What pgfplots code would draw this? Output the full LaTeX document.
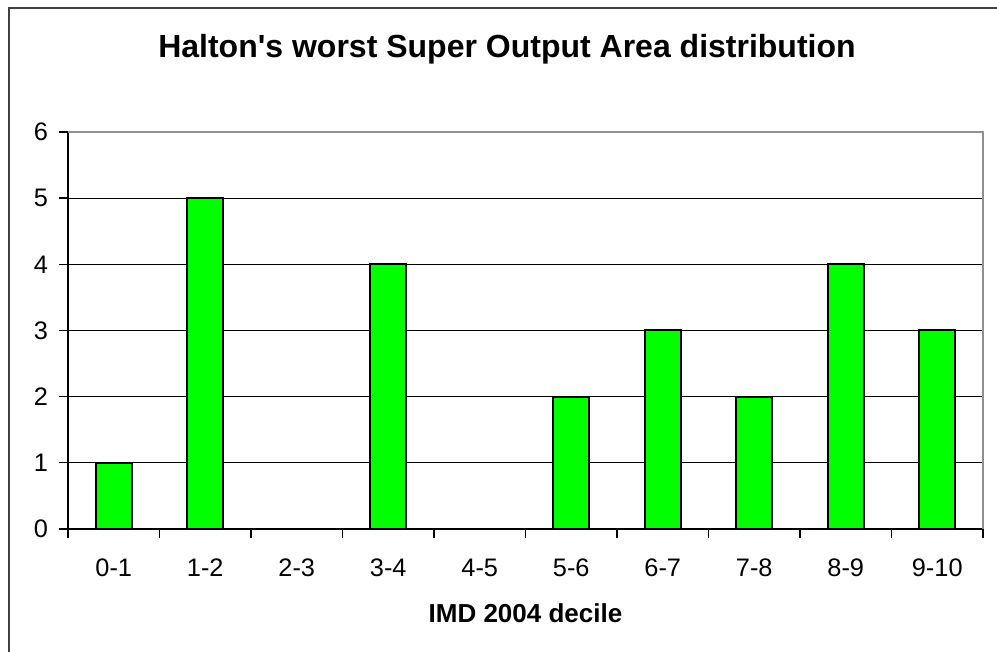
\documentclass[border=0pt]{standalone}
\usepackage{fontspec}
\setmainfont{Liberation Sans}
\usepackage{pgfplots}
\pgfplotsset{compat=1.18}
\definecolor{bargreen}{HTML}{00FF00}
\definecolor{framegray}{HTML}{404040}
\definecolor{boxgray}{HTML}{909090}

\begin{document}
\begin{tikzpicture}
% picture is 997 x 652 px, 1px = 0.75pt
\useasboundingbox (0pt,0pt) rectangle (747.75pt,489pt);
\begin{scope}
  \clip (0pt,0pt) rectangle (747.75pt,489pt);
  \draw[framegray, line width=1.5pt] (7pt,-20pt) -- (7pt,483pt) -- (770pt,483pt);
\end{scope}

\begin{axis}[
  at={(51pt,92.25pt)}, anchor=south west,
  scale only axis, width=686.25pt, height=297.75pt,
  xmin=0, xmax=10, ymin=0, ymax=6,
  ybar, bar width=27pt,
  axis lines=left, axis line style={-, line width=1.2pt},
  xtick={0,1,...,10}, x tick label as interval,
  xticklabels={0-1,1-2,2-3,3-4,4-5,5-6,6-7,7-8,8-9,9-10},
  ytick={0,1,...,6},
  tick align=outside, major tick length=6.5pt,
  tick style={black, line width=1pt},
  ymajorgrids, major grid style={black, line width=0.8pt},
  /pgf/number format/assume math mode=true,
  tick label style={font=\fontsize{19}{23}\selectfont},
  xticklabel style={anchor=north, text height=13.6pt, text depth=0pt, yshift=-12pt},
  yticklabel style={xshift=-5pt},
  title={Halton\textquotesingle s worst Super Output Area distribution},
  title style={font=\bfseries\fontsize{24}{29}\selectfont,
    at={(axis description cs:0.5,1)}, anchor=base, yshift=49.5pt, xshift=-13.9pt},
  xlabel={IMD 2004 decile},
  xlabel style={font=\bfseries\fontsize{19.5}{23}\selectfont,
    at={(axis description cs:0.5,0)}, anchor=base, yshift=-70pt},
  clip=false,
]
\addplot[fill=bargreen, draw=black, line width=1.5pt] coordinates {
  (0.5,1) (1.5,5) (2.5,0) (3.5,4) (4.5,0) (5.5,2) (6.5,3) (7.5,2) (8.5,4) (9.5,3)
};
\draw[boxgray, line width=1.5pt] (rel axis cs:0,1) -- (rel axis cs:1,1) -- (rel axis cs:1,0);
\end{axis}
\end{tikzpicture}
\end{document}
